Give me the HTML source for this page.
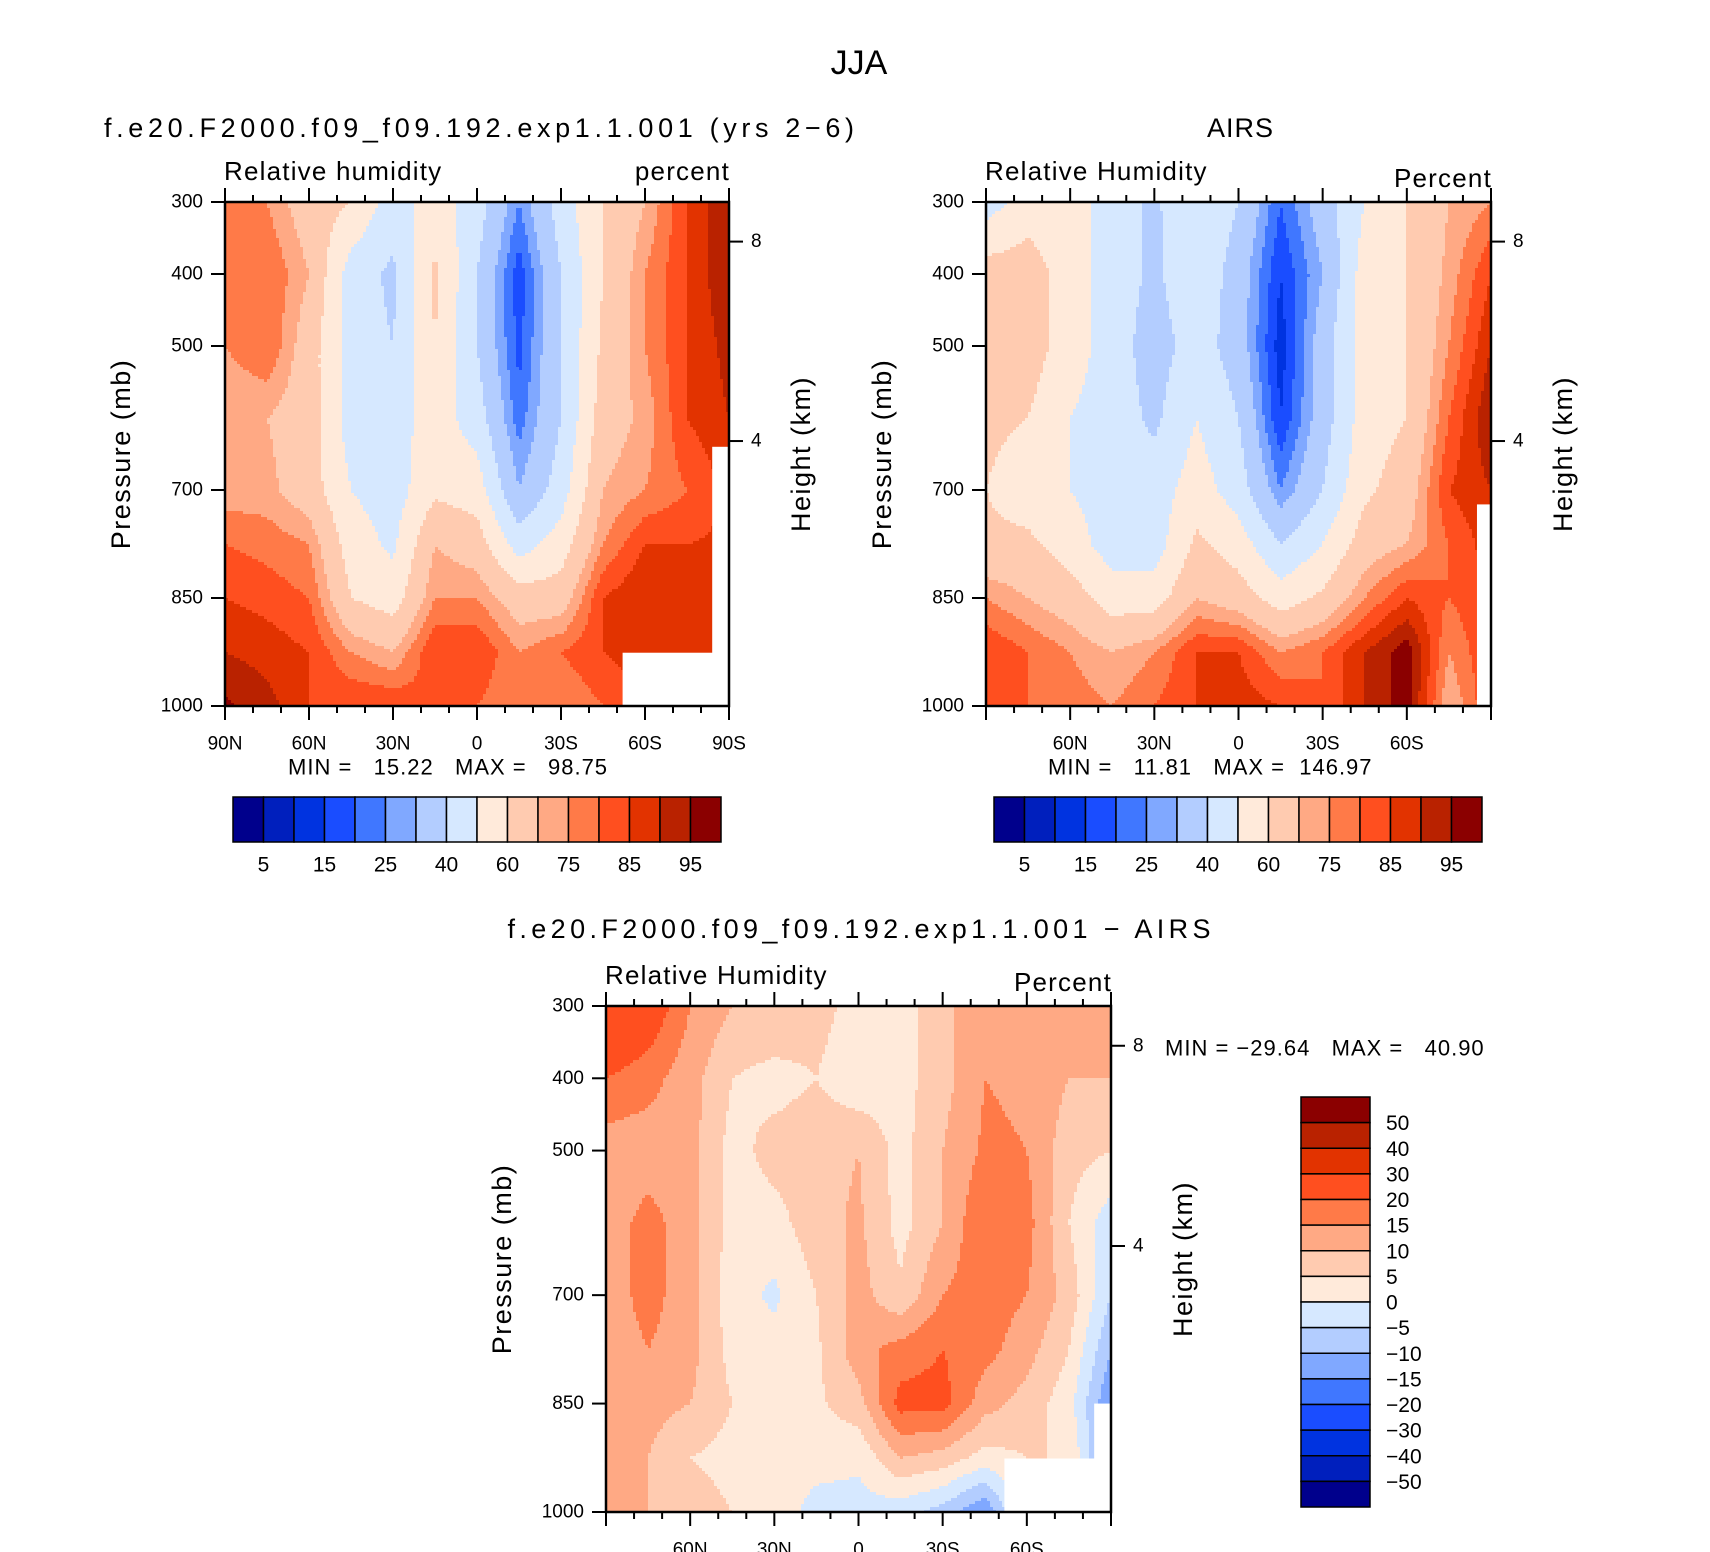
<!DOCTYPE html>
<html><head><meta charset="utf-8"><style>
html,body{margin:0;padding:0;background:#fff}
svg{display:block;font-family:"Liberation Sans",sans-serif}
.pre{white-space:pre}
</style></head><body>
<svg id="fig" width="1710" height="1552" viewBox="0 0 1710 1552" xmlns="http://www.w3.org/2000/svg">
<text x="859" y="74" font-size="34" text-anchor="middle">JJA</text>
<g id="panels"></g>
</svg>
<script>
// ---------- data ----------
const lats = [90,75,60,45,30,15,0,-15,-30,-45,-60,-75,-90];
const pressures = [300,400,500,600,700,775,850,925,1000];
const colors = ['#00008c','#001fbd','#0033e0','#1a4dff','#4077ff','#80a8ff','#b3cdff','#d6e8ff','#ffeada','#ffcbb0','#ffa984','#ff7a48','#ff4f1f','#e23300','#b92200','#8b0000'];
const levelsRH = [5,10,15,20,25,30,40,50,60,70,75,80,85,90,95];
const levelsDiff = [-50,-40,-30,-20,-15,-10,-5,0,5,10,15,20,30,40,50];
const labelsRH = ['5','15','25','40','60','75','85','95'];
const labelsDiff = ['50','40','30','20','15','10','5','0','−5','−10','−15','−20','−30','−40','−50'];
const xTickLabels = ['90N','60N','30N','0','30S','60S','90S'];
const xTickLats = [90,60,30,0,-30,-60,-90];
const pTickLabels = [300,400,500,700,850,1000];
const hTickKm = [8,4];
const hTickP = [355,632];
// columns = lats, rows = pressures
const modelRH = [
 [75,75,65,60,45,55,45,25,45,60,70,85,95],
 [75,80,70,45,38,62,40,17,40,60,75,85,95],
 [75,80,65,45,40,60,40,18,40,62,75,85,92],
 [70,70,65,45,45,55,45,22,40,65,72,85,90],
 [72,72,65,50,45,58,55,30,45,70,75,80,86],
 [80,78,75,55,48,70,65,45,55,75,85,85,86],
 [85,83,80,60,55,75,75,65,65,85,90,90,88],
 [90,88,85,75,70,85,85,75,80,85,88,88,88],
 [96,92,85,85,85,80,80,75,75,80,85,85,85]
];
const airsRH = [
 [45,55,55,45,38,50,40,20,35,50,60,70,75],
 [65,65,55,45,38,48,35,15,30,55,60,72,85],
 [65,65,55,45,35,45,35,12,35,55,60,75,90],
 [62,60,50,45,38,50,40,15,35,55,60,80,95],
 [60,55,50,45,45,55,45,25,40,58,65,85,90],
 [62,62,55,45,45,62,55,40,50,65,70,80,88],
 [75,70,65,55,55,70,65,55,62,75,85,80,85],
 [85,80,75,70,75,85,85,75,80,90,98,75,85],
 [85,80,78,75,80,85,88,85,80,90,98,70,85]
];
const diffRH = [
 [30,25,15,10,10,7,3,3,8,15,15,10,15],
 [20,17,12,5,3,5,1,3,8,15,14,10,10],
 [12,12,12,3,7,8,10,3,10,16,15,7,5],
 [12,17,12,3,3,8,11,3,10,20,17,5,-3],
 [12,17,12,2,-1,5,12,6,15,18,15,8,-5],
 [12,15,12,3,2,4,13,17,20,17,12,5,-10],
 [12,12,10,5,3,4,8,22,22,12,8,2,-15],
 [10,10,5,3,3,2,1,10,8,3,5,5,-15],
 [12,10,8,5,3,-2,-2,-3,-7,-15,5,5,-15]
];
// missing-data masks [latFrom, latTo, pFrom, pTo]
const mask1 = [[-52,-90,926,1000],[-84,-90,640,1000]];
const mask2 = [[-85,-90,720,1000]];
const mask3 = [[-52,-90,926,1000],[-84,-90,850,1000]];

// ---------- drawing ----------
const NS='http://www.w3.org/2000/svg';
const root=document.getElementById('panels');
function el(tag,attrs,parent){const e=document.createElementNS(NS,tag);for(const k in attrs)e.setAttribute(k,attrs[k]);(parent||root).appendChild(e);return e;}
function txt(x,y,s,size,anchor,parent,extra){const t=el('text',Object.assign({x:x,y:y,'font-size':size,'text-anchor':anchor||'start','dominant-baseline':'central'},extra||{}),parent);t.textContent=s;return t;}

function interp(grid,lat,p){
  let i=0;while(i<lats.length-2&&lat<lats[i+1])i++;
  let j=0;while(j<pressures.length-2&&p>pressures[j+1])j++;
  const fx=(lats[i]-lat)/(lats[i]-lats[i+1]);
  const fy=(p-pressures[j])/(pressures[j+1]-pressures[j]);
  const a=grid[j][i],b=grid[j][i+1],c=grid[j+1][i],d=grid[j+1][i+1];
  return a*(1-fx)*(1-fy)+b*fx*(1-fy)+c*(1-fx)*fy+d*fx*fy;
}
function level(v,levels){let k=0;while(k<levels.length&&v>=levels[k])k++;return k;}

function panel(cfg){
  const g=el('g',{});
  
  
  const X=cfg.x,Y=cfg.y,W=cfg.w,H=cfg.h;
  const xs=lat=>X+(90-lat)/180*W;
  const ys=p=>Y+(p-300)/700*H;
  const field=el('g',{'shape-rendering':'crispEdges'},g);
  
  
  const cs=3;
  for(let py=0;py<H;py+=cs){
    const p=300+Math.min(py+cs/2,H)/H*700;
    const hh=Math.min(cs,H-py)+0.6;
    let runStart=0,runCol=null;
    for(let px=0;px<W;px+=cs){
      const lat=90-Math.min(px+cs/2,W)/W*180;
      const col=colors[level(interp(cfg.grid,lat,p),cfg.levels)];
      if(col!==runCol){
        if(runCol!==null){el('rect',{x:X+runStart,y:Y+py,width:px-runStart+0.6,height:hh,fill:runCol},field);}
        runStart=px;runCol=col;
      }
    }
    el('rect',{x:X+runStart,y:Y+py,width:W-runStart,height:hh,fill:runCol},field);
  }
  for(const m of cfg.masks){
    const r=el('rect',{x:xs(m[0]),y:ys(m[2]),width:xs(m[1])-xs(m[0])+1,height:ys(m[3])-ys(m[2])+1,fill:'#fff'},g);
    
    
  }
  const fr=el('rect',{x:X,y:Y,width:W,height:H,fill:'none',stroke:'#000','stroke-width':2.5},g);
  
  
  for(let lat=90;lat>=-90;lat-=10){
    const x=xs(lat),major=lat%30===0,len=major?14:7;
    el('line',{x1:x,y1:Y,x2:x,y2:Y-len,stroke:'#000','stroke-width':2},g);
    el('line',{x1:x,y1:Y+H,x2:x,y2:Y+H+len,stroke:'#000','stroke-width':2},g);
  }
  xTickLats.forEach((lat,i)=>{
    if(cfg.skipEnds&&(i===0||i===xTickLats.length-1))return;
    const t=txt(xs(lat),Y+H+38,xTickLabels[i],19,'middle',g);
    
    
  });
  pTickLabels.forEach(p=>{
    el('line',{x1:X-14,y1:ys(p),x2:X,y2:ys(p),stroke:'#000','stroke-width':2},g);
    const t=txt(X-22,ys(p),String(p),19,'end',g);
    
    
  });
  hTickKm.forEach((km,i)=>{
    const y=ys(hTickP[i]);
    el('line',{x1:X+W,y1:y,x2:X+W+14,y2:y,stroke:'#000','stroke-width':2},g);
    const t=txt(X+W+22,y,String(km),19,'start',g);
    
    
  });
  const yl=txt(0,0,'Pressure (mb)',27,'middle',g,{transform:`translate(${X-104},${Y+H/2}) rotate(-90)`,'letter-spacing':'1.5'});
  
  
  const hl=txt(0,0,'Height (km)',27,'middle',g,{transform:`translate(${X+W+72},${Y+H/2}) rotate(-90)`,'letter-spacing':'1.5'});
  
  
  const lt=txt(X-1,cfg.ly1,cfg.left,26,'start',g,{'letter-spacing':'1.2'});
  
  
  const rt=txt(X+W+1,cfg.ly2,cfg.right,26,'end',g,{'letter-spacing':'1.2'});
  
  
  const st=txt(cfg.tx,cfg.ty,cfg.title,27,'middle',g,{textLength:cfg.tl,lengthAdjust:'spacing'});
  
  
  const mm=el('text',{x:cfg.mx,y:cfg.my,'font-size':22,'dominant-baseline':'central','class':'pre','letter-spacing':'1'},g);
  mm.textContent=cfg.minmax;
  
  
}

function hbar(x,y,w,h){
  const g=el('g',{});
  
  
  const bw=w/colors.length;
  colors.forEach((c,i)=>{
    const r=el('rect',{x:x+i*bw,y:y,width:bw,height:h,fill:c,stroke:'#000','stroke-width':1.5},g);
    
    
  });
  labelsRH.forEach((s,i)=>{
    const t=txt(x+(2*i+1)*bw,y+h+23,s,21,'middle',g);
    
    
  });
}
function vbar(x,y,w,h){
  const g=el('g',{});
  
  
  const bh=h/colors.length;
  colors.slice().reverse().forEach((c,i)=>{
    const r=el('rect',{x:x,y:y+i*bh,width:w,height:bh,fill:c,stroke:'#000','stroke-width':1.5},g);
    
    
  });
  labelsDiff.forEach((s,i)=>{
    const t=txt(x+w+16,y+(i+1)*bh+1,s,21,'start',g);
    
    
  });
}

panel({name:'model-panel',x:225,y:202,w:504,h:504,grid:modelRH,levels:levelsRH,masks:mask1,skipEnds:false,
  left:'Relative humidity',right:'percent',ly1:171,ly2:171,title:'f.e20.F2000.f09_f09.192.exp1.1.001 (yrs 2−6)',tx:479,ty:128,tl:750,
  minmax:'MIN =   15.22   MAX =   98.75',mx:288,my:767});
panel({name:'airs-panel',x:986,y:202,w:505,h:504,grid:airsRH,levels:levelsRH,masks:mask2,skipEnds:true,
  left:'Relative Humidity',right:'Percent',ly1:171,ly2:178,title:'AIRS',tx:1240,ty:128,tl:66,
  minmax:'MIN =   11.81   MAX =  146.97',mx:1048,my:767});
panel({name:'difference-panel',x:606,y:1006,w:505,h:506,grid:diffRH,levels:levelsDiff,masks:mask3,skipEnds:true,
  left:'Relative Humidity',right:'Percent',ly1:975,ly2:982,title:'f.e20.F2000.f09_f09.192.exp1.1.001 − AIRS',tx:859,ty:929,tl:703,
  minmax:'MIN = −29.64   MAX =   40.90',mx:1165,my:1048});
hbar(233,797,488,45);
hbar(994,797,488,45);
vbar(1301,1097,69,410);
</script>
</body></html>
